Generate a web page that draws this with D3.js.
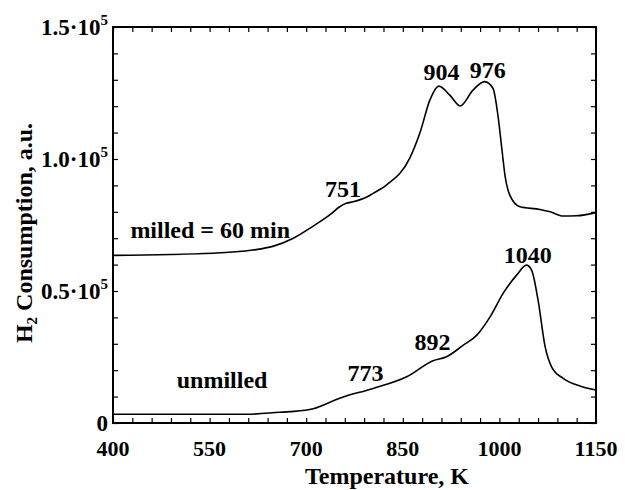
<!DOCTYPE html>
<html>
<head>
<meta charset="utf-8">
<script src="https://cdn.jsdelivr.net/npm/d3@7"></script>
<style>
  body { margin: 0; background: #fff; }
  text { font-family: "Liberation Serif", "Times New Roman", serif; font-weight: bold; fill: #000; }
</style>
</head>
<body>
<div id="chart"></div>
<script>
// temperature (K) and H2 consumption (a.u.)
var milledT = [400, 555, 617, 648, 680, 711, 737, 752, 762, 773, 794, 804, 825, 861, 877, 892, 906,
               923, 939, 959, 977, 990, 998, 1004, 1009, 1016, 1032, 1063, 1079, 1099, 1120, 1150];
var milledH = [63500, 64300, 65500, 66900, 70000, 74600, 78900, 81900, 83200, 83800, 85600, 87000, 90200, 100400, 110200, 122300, 127600,
               124200, 120100, 126100, 129300, 126800, 116000, 103400, 93300, 86400, 81900, 80900, 80000, 78400, 78500, 79700];

var unmilledT = [400, 607, 659, 675, 711, 752, 804, 856, 897, 918, 944, 965, 985, 1006, 1027, 1042,
                 1050, 1060, 1071, 1081, 1099, 1125, 1150];
var unmilledH = [3300, 3300, 4050, 4300, 5400, 9400, 13100, 17500, 23600, 25100, 29500, 33300, 40000, 49200, 56100, 59800,
                 57900, 46600, 28900, 21300, 16900, 14000, 12500];

var xTicks = [400, 550, 700, 850, 1000, 1150];
var yTicks = [0, 50000, 100000, 150000];
var yTickLabels = ["0", "0.5\u00b710", "1.0\u00b710", "1.5\u00b710"];

// annotations: text, temperature, value
var notes = [
  {t: "751", x: 757, y: 85700, a: "middle"},
  {t: "904", x: 910, y: 129900, a: "middle"},
  {t: "976", x: 982, y: 130700, a: "middle"},
  {t: "1040", x: 1044, y: 60600, a: "middle"},
  {t: "892", x: 896, y: 27700, a: "middle"},
  {t: "773", x: 792, y: 15900, a: "middle"},
  {t: "milled = 60 min", x: 427, y: 70100, a: "start"},
  {t: "unmilled", x: 499, y: 13300, a: "start"}
];

var margin = {top: 27, right: 29, bottom: 67, left: 113},
    width = 625 - margin.left - margin.right,
    height = 490 - margin.top - margin.bottom;

var svg = d3.select("#chart").append("svg")
    .attr("width", 625)
    .attr("height", 490)
  .append("g")
    .attr("transform", "translate(" + margin.left + "," + margin.top + ")");

var x = d3.scaleLinear().domain([400, 1150]).range([0, width]);
var y = d3.scaleLinear().domain([0, 150000]).range([height, 0]);

var minorX = d3.range(400, 1151, 30);
var minorY = d3.range(0, 150001, 10000);

// inward ticks on all four sides
function ticks(g, axis) {
  g.call(axis);
  g.select(".domain").remove();
  g.selectAll(".tick line").attr("stroke", "#000").attr("stroke-width", 1.2);
  g.selectAll(".tick text").remove();
}
svg.append("g").attr("transform", "translate(0," + height + ")")
  .call(ticks, d3.axisBottom(x).tickValues(minorX).tickSizeInner(-5).tickSizeOuter(0));
svg.append("g")
  .call(ticks, d3.axisTop(x).tickValues(minorX).tickSizeInner(-5).tickSizeOuter(0));
svg.append("g")
  .call(ticks, d3.axisLeft(y).tickValues(minorY).tickSizeInner(-5).tickSizeOuter(0));
svg.append("g").attr("transform", "translate(" + width + ",0)")
  .call(ticks, d3.axisRight(y).tickValues(minorY).tickSizeInner(-5).tickSizeOuter(0));

svg.append("rect")
  .attr("width", width).attr("height", height)
  .attr("fill", "none").attr("stroke", "#000").attr("stroke-width", 2);

// tick labels
svg.selectAll(".xl").data(xTicks).enter().append("text")
  .attr("x", function(d) { return x(d); })
  .attr("y", height + 33)
  .attr("text-anchor", "middle")
  .style("font-size", "22px")
  .text(function(d) { return d; });

var yl = svg.selectAll(".yl").data(yTicks).enter().append("text")
  .attr("x", -5)
  .attr("y", function(d) { return y(d) + 8; })
  .attr("text-anchor", "end")
  .style("font-size", "23px");
yl.append("tspan").text(function(d, i) { return yTickLabels[i]; });
yl.filter(function(d) { return d > 0; }).append("tspan")
  .attr("dy", -10).style("font-size", "15px").text("5");

// axis titles
svg.append("text")
  .attr("x", 274)
  .attr("y", height + 61)
  .attr("text-anchor", "middle")
  .style("font-size", "24px")
  .text("Temperature, K");

var yt = svg.append("text")
  .attr("transform", "translate(" + (-81) + "," + 206 + ") rotate(-90)")
  .attr("text-anchor", "middle")
  .style("font-size", "24px");
yt.append("tspan").text("H");
yt.append("tspan").attr("dy", 5).style("font-size", "15px").text("2");
yt.append("tspan").attr("dy", -5).text(" Consumption, a.u.");

// curves
var line = d3.line()
  .x(function(d) { return x(d[0]); })
  .y(function(d) { return y(d[1]); })
  .curve(d3.curveMonotoneX);

[[milledT, milledH], [unmilledT, unmilledH]].forEach(function(s) {
  svg.append("path")
    .datum(d3.zip(s[0], s[1]))
    .attr("fill", "none")
    .attr("stroke", "#000")
    .attr("stroke-width", 1.6)
    .attr("d", line);
});

svg.selectAll(".note").data(notes).enter().append("text")
  .attr("x", function(d) { return x(d.x); })
  .attr("y", function(d) { return y(d.y); })
  .attr("text-anchor", function(d) { return d.a; })
  .style("font-size", "24px")
  .text(function(d) { return d.t; });
</script>
</body>
</html>
